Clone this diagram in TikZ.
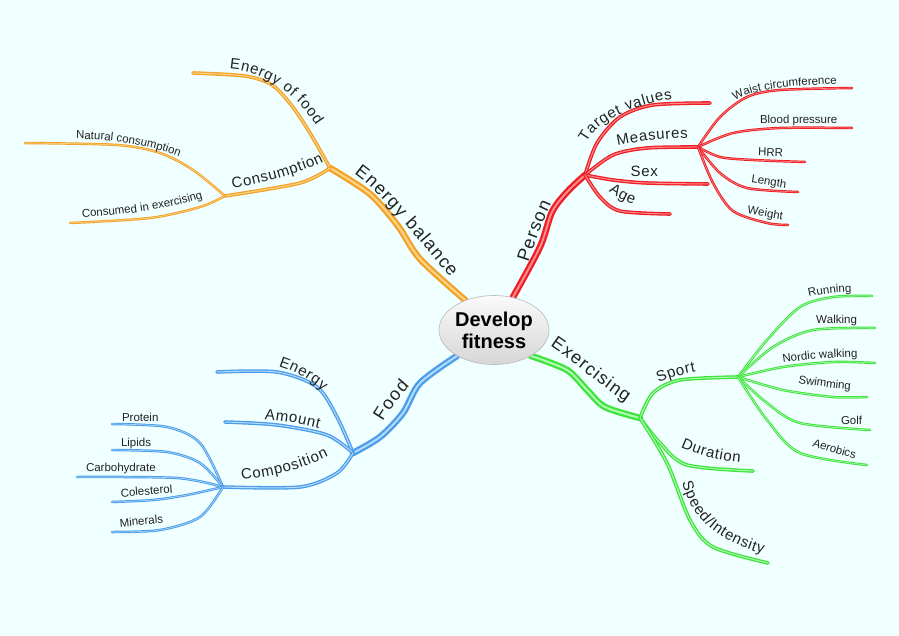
\documentclass[tikz,border=0pt]{standalone}
\usepackage{fontspec}
\setmainfont{Liberation Sans}
\usetikzlibrary{decorations.text,shapes.geometric}
\pgfdeclarelayer{back}\pgfdeclarelayer{bg}\pgfsetlayers{back,bg,main}
\definecolor{bgc}{HTML}{F0FFFF}
\definecolor{txt}{HTML}{222222}
\definecolor{orn}{HTML}{F2A229}\definecolor{ornl}{HTML}{FFD588}
\definecolor{rd}{HTML}{EE1E24}\definecolor{rdl}{HTML}{FF8C8C}
\definecolor{gr}{HTML}{3EE33E}\definecolor{grl}{HTML}{B0FFB0}
\definecolor{bl}{HTML}{4A9DE8}\definecolor{bll}{HTML}{B4DAFF}
\newcommand\fM{\fontsize{18}{18}\selectfont\color{txt}\kern1.3pt}
\newcommand\fS{\fontsize{15}{15}\selectfont\color{txt}\kern0.7pt}
\newcommand\fL{\fontsize{11.5}{12}\selectfont\color{txt}}
\tikzset{
  lab/.style={decorate, decoration={text along path, text={#1}}},
  brmain/.style={line width=2.3pt, double distance=2pt, line cap=round, line join=round},
  brmid/.style={line width=1.3pt, double distance=1pt, line cap=round, line join=round},
  brleaf/.style={line width=0.95pt, double distance=0.6pt, line cap=round, line join=round},
  ob/.style={draw=orn, double=ornl},
  rb/.style={draw=rd, double=rdl},
  gb/.style={draw=gr, double=grl},
  bb/.style={draw=bl, double=bll},
  centre/.style={ellipse, minimum width=107pt, minimum height=69pt, inner sep=0pt,
    draw=gray!55, line width=0.6pt, top color=gray!4, bottom color=gray!32,
    align=center, font=\fontsize{20}{22}\selectfont\bfseries, text=black}
}
\begin{document}
\begin{tikzpicture}[x=1pt,y=-1pt]
\useasboundingbox (0,0) rectangle (899,636);
\begin{pgfonlayer}{back}
\fill[bgc] (0,0) rectangle (899,636);
\end{pgfonlayer}
\node[centre] (c) at (494,330) {Develop\\fitness};
% coordinates
\coordinate (eb) at (330,168); \coordinate (co) at (225,196);
\coordinate (ef) at (193,73); \coordinate (nc) at (25,143); \coordinate (ce) at (70,223);
\coordinate (pe) at (585,175); \coordinate (tv) at (710,103); \coordinate (me) at (698,147);
\coordinate (sx) at (708,184); \coordinate (ag) at (670,214);
\coordinate (wc) at (852,88); \coordinate (bp) at (852,128); \coordinate (hr) at (805,162);
\coordinate (le) at (798,192); \coordinate (we) at (788,225);
\coordinate (ex) at (640,418); \coordinate (sp) at (738,377); \coordinate (du) at (753,471);
\coordinate (si) at (768,563);
\coordinate (ru) at (872,296); \coordinate (wa) at (875,328); \coordinate (nw) at (875,363);
\coordinate (sw) at (867,397); \coordinate (go) at (870,430); \coordinate (ae) at (867,465);
\coordinate (fo) at (353,453); \coordinate (en) at (217,372); \coordinate (am) at (225,422);
\coordinate (cp) at (223,487);
\coordinate (pr) at (112,424); \coordinate (li) at (112,450); \coordinate (ca) at (77,477);
\coordinate (cl) at (112,502); \coordinate (mi) at (112,532);
\begin{pgfonlayer}{bg}
% orange
\draw[brmain,ob] plot[smooth] coordinates {(c.134) (420,259) (398,226) (370,194) (eb)};
\draw[brmid,ob] plot[smooth] coordinates {(eb) (310,133) (292,106) (272,85) (245,76) (ef)};
\draw[brmid,ob] plot[smooth] coordinates {(eb) (300,183) (co)};
\draw[brleaf,ob] plot[smooth] coordinates {(co) (193,170) (160,153) (117,145) (nc)};
\draw[brleaf,ob] plot[smooth] coordinates {(co) (200,207) (150,218) (ce)};
% red
\draw[brmain,rb] plot[smooth] coordinates {(c.60) (540,247) (552,212) (567,192) (pe)};
\draw[brmid,rb] plot[smooth] coordinates {(pe) (597,143) (620,117) (653,105) (tv)};
\draw[brmid,rb] plot[smooth] coordinates {(pe) (613,155) (647,148) (me)};
\draw[brmid,rb] plot[smooth] coordinates {(pe) (613,180) (647,183) (sx)};
\draw[brmid,rb] plot[smooth] coordinates {(pe) (600,197) (620,211) (ag)};
\draw[brleaf,rb] plot[smooth] coordinates {(me) (720,117) (747,97) (780,90) (wc)};
\draw[brleaf,rb] plot[smooth] coordinates {(me) (733,133) (780,128) (bp)};
\draw[brleaf,rb] plot[smooth] coordinates {(me) (720,157) (753,160) (hr)};
\draw[brleaf,rb] plot[smooth] coordinates {(me) (720,173) (747,188) (le)};
\draw[brleaf,rb] plot[smooth] coordinates {(me) (713,183) (733,211) (767,223) (we)};
% green
\draw[brmain,gb] plot[smooth] coordinates {(c.-35) (567,370) (587,390) (605,407) (ex)};
\draw[brmid,gb] plot[smooth] coordinates {(ex) (653,393) (680,380) (sp)};
\draw[brmid,gb] plot[smooth] coordinates {(ex) (660,443) (687,465) (du)};
\draw[brmid,gb] plot[smooth] coordinates {(ex) (667,463) (690,520) (713,547) (si)};
\draw[brleaf,gb] plot[smooth] coordinates {(sp) (767,340) (800,307) (833,297) (ru)};
\draw[brleaf,gb] plot[smooth] coordinates {(sp) (773,347) (813,330) (wa)};
\draw[brleaf,gb] plot[smooth] coordinates {(sp) (783,367) (833,362) (nw)};
\draw[brleaf,gb] plot[smooth] coordinates {(sp) (783,390) (833,397) (sw)};
\draw[brleaf,gb] plot[smooth] coordinates {(sp) (767,403) (800,423) (go)};
\draw[brleaf,gb] plot[smooth] coordinates {(sp) (767,420) (800,453) (ae)};
% blue
\draw[brmain,bb] plot[smooth] coordinates {(c.215) (420,383) (403,413) (380,437) (fo)};
\draw[brmid,bb] plot[smooth] coordinates {(fo) (337,417) (317,387) (277,372) (en)};
\draw[brmid,bb] plot[smooth] coordinates {(fo) (327,435) (277,425) (am)};
\draw[brmid,bb] plot[smooth] coordinates {(fo) (337,473) (300,487) (cp)};
\draw[brleaf,bb] plot[smooth] coordinates {(cp) (200,443) (167,427) (pr)};
\draw[brleaf,bb] plot[smooth] coordinates {(cp) (200,463) (167,452) (li)};
\draw[brleaf,bb] plot[smooth] coordinates {(cp) (177,478) (ca)};
\draw[brleaf,bb] plot[smooth] coordinates {(cp) (187,495) (153,500) (cl)};
\draw[brleaf,bb] plot[smooth] coordinates {(cp) (200,517) (160,530) (mi)};
\end{pgfonlayer}
% labels
\path[lab={|\fM|Energy balance}] (353,173) .. controls (383,192) and (437,264) .. (470,300);
\path[lab={|\fS|Energy of food}] (229,69) .. controls (275,72) and (312,108) .. (330,152);
\path[lab={|\fS|Consumption}] (232,189) .. controls (265,183) and (310,172) .. (345,150);
\path[lab={|\fL|Natural consumption}] (76,139) .. controls (120,139) and (165,148) .. (198,165);
\path[lab={|\fL|Consumed in exercising}] (82,217) .. controls (120,216) and (180,208) .. (212,195);
\path[lab={|\fM|Person}] (528,264) .. controls (535,243) and (545,212) .. (562,184);
\path[lab={|\fS|Target values}] (586,143) .. controls (594,125) and (630,100) .. (700,96);
\path[lab={|\fS|Measures}] (617,146) .. controls (640,141) and (665,138) .. (700,138);
\path[lab={|\fS|Sex}] (630,177) -- (680,177);
\path[lab={|\fS|Age}] (608,191) .. controls (618,198) and (630,205) .. (655,209);
\path[lab={|\fL|Waist circumference}] (735,101) .. controls (748,92) and (775,85) .. (850,84);
\path[lab={|\fL|Blood pressure}] (760,124) -- (848,123);
\path[lab={|\fL|HRR}] (758,156) -- (798,157);
\path[lab={|\fL|Length}] (751,183) -- (798,190);
\path[lab={|\fL|Weight}] (747,214) -- (798,222);
\path[lab={|\fM|Exercising}] (549,345) .. controls (570,358) and (615,400) .. (650,416);
\path[lab={|\fS|Sport}] (658,383) .. controls (672,377) and (688,372) .. (715,369);
\path[lab={|\fS|Duration}] (680,447) .. controls (700,456) and (720,462) .. (765,464);
\path[lab={|\fS|Speed/Intensity}] (682,482) .. controls (690,515) and (715,548) .. (795,561);
\path[lab={|\fL|Running}] (809,297) .. controls (825,293) and (840,292) .. (862,292);
\path[lab={|\fL|Walking}] (816,323) -- (865,323);
\path[lab={|\fL|Nordic walking}] (783,363) .. controls (810,359) and (835,357) .. (868,357);
\path[lab={|\fL|Swimming}] (798,383) .. controls (815,386) and (835,389) .. (858,390);
\path[lab={|\fL|Golf}] (841,424) -- (872,424);
\path[lab={|\fL|Aerobics}] (812,446) .. controls (830,452) and (845,457) .. (865,461);
\path[lab={|\fM|Food}] (382,423) .. controls (392,406) and (405,390) .. (432,362);
\path[lab={|\fS|Energy}] (278,366) .. controls (300,373) and (318,384) .. (336,404);
\path[lab={|\fS|Amount}] (264,419) .. controls (290,421) and (310,426) .. (338,434);
\path[lab={|\fS|Composition}] (241,480) .. controls (275,477) and (310,468) .. (346,447);
\path[lab={|\fL|Protein}] (122,421) -- (168,421);
\path[lab={|\fL|Lipids}] (121,446) -- (162,446);
\path[lab={|\fL|Carbohydrate}] (86,471) -- (165,472);
\path[lab={|\fL|Colesterol}] (121,497) -- (185,492);
\path[lab={|\fL|Minerals}] (120,527) -- (178,522);
\end{tikzpicture}
\end{document}
